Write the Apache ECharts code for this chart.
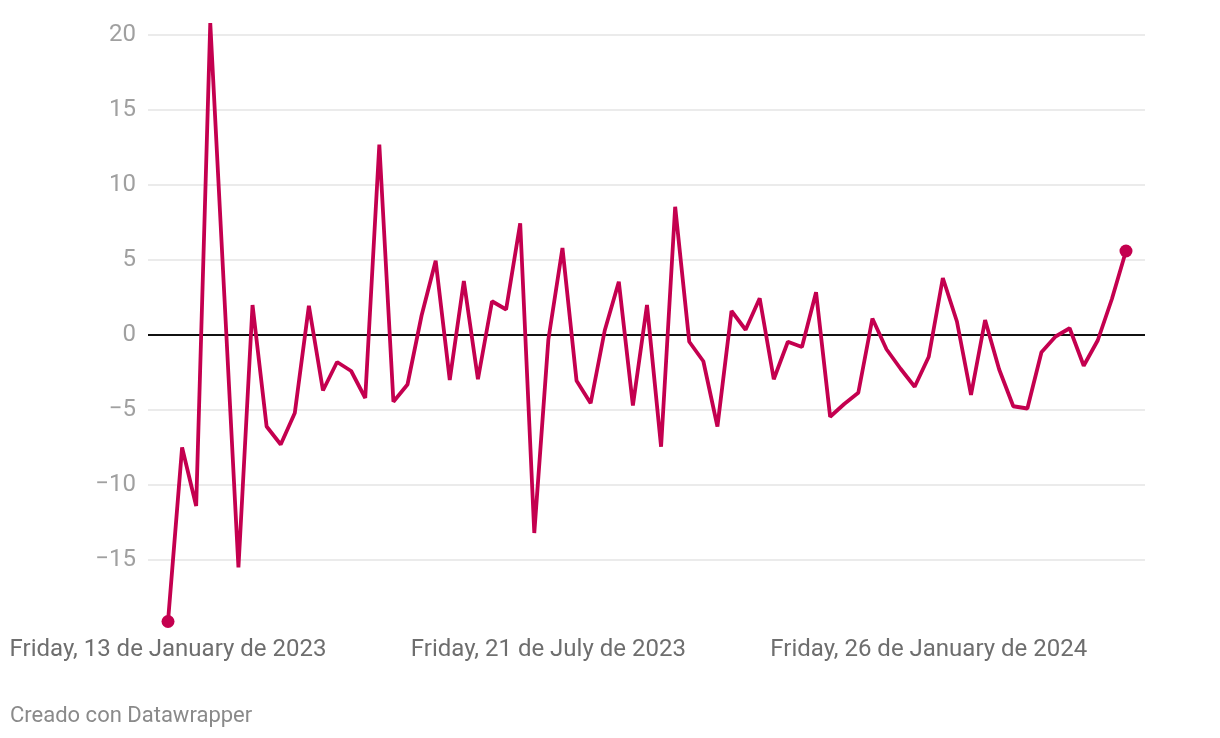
<!DOCTYPE html>
<html>
<head>
<meta charset="utf-8">
<script src="https://cdn.jsdelivr.net/npm/echarts@6/dist/echarts.min.js"></script>
<style>
html,body{margin:0;padding:0;background:#fff;}
#chart{width:1220px;height:738px;}
</style>
</head>
<body>
<div id="chart"></div>
<script>
// Weekly values, starting Friday 13 January 2023
const values = [
  -19.1, -7.5, -11.4, 20.8, 2.6, -15.5, 2.0, -6.1, -7.3, -5.2,
  1.95, -3.7, -1.8, -2.4, -4.2, 12.7, -4.45, -3.3, 1.3, 4.95,
  -3.0, 3.6, -2.95, 2.25, 1.7, 7.45, -13.2, -0.3, 5.8, -3.05,
  -4.55, 0.3, 3.55, -4.7, 2.0, -7.45, 8.55, -0.45, -1.75, -6.1,
  1.6, 0.35, 2.45, -2.95, -0.45, -0.8, 2.85, -5.45, -4.6, -3.85,
  1.1, -0.95, -2.25, -3.45, -1.45, 3.8, 0.9, -4.0, 1.0, -2.3,
  -4.75, -4.9, -1.15, -0.1, 0.45, -2.05, -0.35, 2.4, 5.6
];
const tickIndices = [0, 27, 54];
const tickLabels = [
  'Friday, 13 de January de 2023',
  'Friday, 21 de July de 2023',
  'Friday, 26 de January de 2024'
];
const yTicks = [-20, -15, -10, -5, 0, 5, 10, 15, 20];

const lineColor = '#c4004f';
const seriesData = values.map((v, i) => [i, v]);
const last = values.length - 1;

const chart = echarts.init(document.getElementById('chart'), null, {renderer: 'canvas'});
chart.setOption({
  backgroundColor: '#ffffff',
  animation: false,
  grid: {left: 148, right: 75, top: 35, bottom: 103, containLabel: false},
  xAxis: {
    type: 'value',
    min: -1.42,
    max: 69.35,
    axisLine: {show: false},
    axisTick: {show: false},
    splitLine: {show: false},
    axisLabel: {
      customValues: tickIndices,
      formatter: function (v) {
        const k = tickIndices.indexOf(Math.round(v));
        return k >= 0 ? tickLabels[k] : '';
      },
      color: '#6e6e6e',
      fontFamily: 'Roboto',
      fontSize: 24,
      margin: 3
    }
  },
  yAxis: {
    type: 'value',
    min: -20,
    max: 20,
    interval: 5,
    axisLine: {show: false},
    axisTick: {show: false},
    splitLine: {
      show: true,
      lineStyle: {
        color: yTicks.map(t => t === -20 ? 'rgba(0,0,0,0)' : '#e4e4e4'),
        width: 1.5
      }
    },
    axisLabel: {
      formatter: function (v) {
        if (v === -20) return '';
        return v < 0 ? '\u2212' + Math.abs(v) : String(v);
      },
      color: '#a0a0a0',
      fontFamily: 'Roboto',
      fontSize: 24,
      margin: 12
    }
  },
  series: [{
    type: 'line',
    data: seriesData,
    clip: false,
    showSymbol: true,
    symbol: 'circle',
    symbolSize: function (val, params) {
      return (params.dataIndex === 0 || params.dataIndex === last) ? 13 : 0;
    },
    itemStyle: {color: lineColor},
    lineStyle: {color: lineColor, width: 3.8},
    z: 5,
    markLine: {
      silent: true,
      symbol: 'none',
      label: {show: false},
      lineStyle: {color: '#111111', width: 1.8, type: 'solid'},
      data: [{yAxis: 0}],
      z: 3
    }
  }],
  graphic: [{
    type: 'text',
    left: 10,
    top: 705,
    style: {
      text: 'Creado con Datawrapper',
      fill: '#8a8a8a',
      font: '22px Roboto'
    }
  }]
});
</script>
</body>
</html>
